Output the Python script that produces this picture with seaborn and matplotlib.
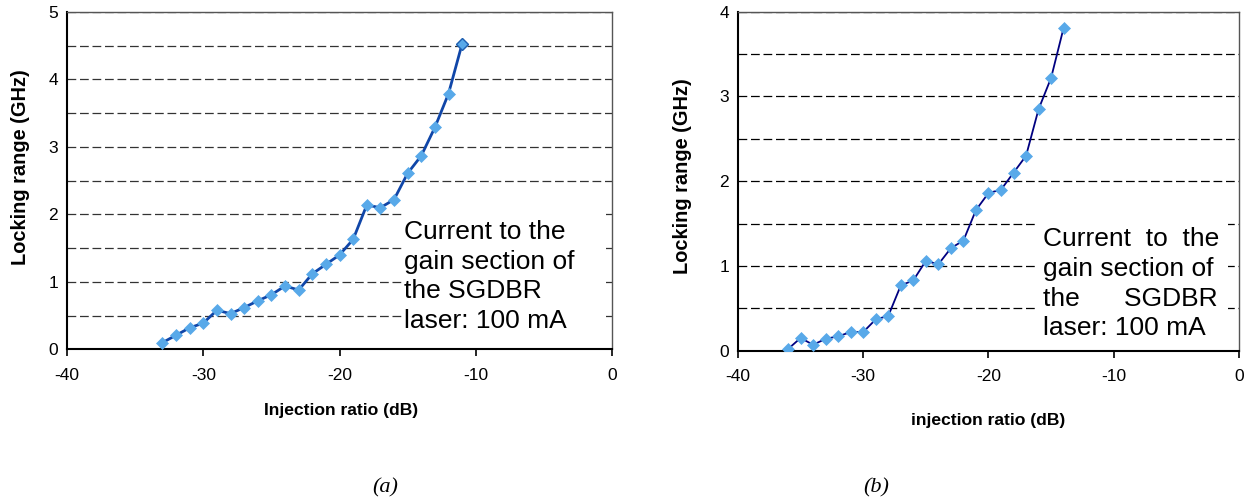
import numpy as np
import pandas as pd
import matplotlib
matplotlib.use("Agg")
import matplotlib.pyplot as plt
import seaborn as sns
from matplotlib.patches import Rectangle
from matplotlib.ticker import MultipleLocator

# ---- data -------------------------------------------------------------
inj_a = list(range(-33, -10))
lock_a = [0.10, 0.21, 0.32, 0.39, 0.58, 0.53, 0.62, 0.72, 0.81, 0.94, 0.88,
          1.12, 1.26, 1.40, 1.63, 2.14, 2.10, 2.22, 2.61, 2.87, 3.29, 3.79, 4.53]
inj_b = list(range(-36, -13))
lock_b = [0.02, 0.15, 0.07, 0.14, 0.17, 0.22, 0.22, 0.37, 0.41, 0.77, 0.83,
          1.06, 1.02, 1.21, 1.30, 1.66, 1.86, 1.90, 2.10, 2.30, 2.85, 3.22, 3.81]
x_ticks = [-40, -30, -20, -10, 0]
ylabel = "Locking range (GHz)"
xlabel_a = "Injection ratio (dB)"
xlabel_b = "injection ratio (dB)"
note_a = "Current to the\ngain section of\nthe SGDBR\nlaser: 100 mA"
note_b = "Current  to  the\ngain section of\nthe      SGDBR\nlaser: 100 mA"
captions = ["(a)", "(b)"]

sns.set_style("white")
plt.rcParams['font.family'] = ['Liberation Sans', 'DejaVu Sans']
plt.rcParams['axes.unicode_minus'] = False
plt.rcParams['text.color'] = 'black'
plt.rcParams['axes.labelcolor'] = 'black'
plt.rcParams['xtick.color'] = 'black'
plt.rcParams['ytick.color'] = 'black'

fig = plt.figure(figsize=(12.51, 5.01), dpi=100)
ax_a = fig.add_axes([0.0536, 0.3026, 0.4356, 0.6734])
ax_b = fig.add_axes([0.5899, 0.3000, 0.4005, 0.6766])

marker_fc = "#58A9E9"
cfg = [
    (ax_a, inj_a, lock_a, 5, "#1046A8", 2.0, "#333333", note_a, xlabel_a,
     (0.6165, 0.035, 0.372, 0.37), (0.619, 0.216),
     (0.503, -0.18), (-0.086, 0.54)),
    (ax_b, inj_b, lock_b, 4, "#000080", 1.3, "#000000", note_b, xlabel_b,
     (0.599, 0.035, 0.379, 0.41), (0.608, 0.198),
     (0.499, -0.207), (-0.11, 0.515)),
]

for (ax, xs, ys, ymax, lc, lw, gc, note, xl, box, tpos, xlc, ylc) in cfg:
    df = pd.DataFrame({"x": xs, "y": ys})
    sns.lineplot(data=df, x="x", y="y", ax=ax, color=lc, linewidth=lw,
                 marker="D", markersize=6.2, markerfacecolor=marker_fc,
                 markeredgecolor=marker_fc, markeredgewidth=0.5, zorder=5)
    ax.set_xlim(-40, 0)
    ax.set_ylim(0, ymax)
    ax.set_xticks(x_ticks)
    ax.yaxis.set_major_locator(MultipleLocator(1))
    ax.yaxis.set_minor_locator(MultipleLocator(0.5))
    ax.grid(True, which="both", axis="y", color=gc, linestyle=(0, (7, 3)),
            linewidth=0.9)
    ax.grid(False, axis="x")
    ax.set_axisbelow(True)
    for s in ["left", "bottom"]:
        ax.spines[s].set_color("black")
        ax.spines[s].set_linewidth(1.5)
    for s in ["top", "right"]:
        ax.spines[s].set_color("#555555")
        ax.spines[s].set_linewidth(1.0)
    ax.tick_params(axis="x", which="major", direction="out", length=5,
                   width=1.2, color="black", labelsize=12.5, pad=8.5,
                   bottom=True, labelcolor="black")
    ax.tick_params(axis="y", which="major", length=0, labelsize=12.5, pad=6.5,
                   labelcolor="black")
    ax.tick_params(axis="y", which="minor", length=0)
    ax.set_xlabel(xl, fontsize=12.6, fontweight="bold", color="black")
    ax.set_ylabel(ylabel, fontsize=14.4, fontweight="bold", color="black")
    ax.xaxis.set_label_coords(*xlc)
    ax.xaxis.label.set_va("center")
    ax.yaxis.set_label_coords(*ylc)
    ax.yaxis.label.set_va("center")
    ax.add_patch(Rectangle((box[0], box[1]), box[2], box[3],
                           transform=ax.transAxes, facecolor="white",
                           edgecolor="none", zorder=3))
    ax.text(tpos[0], tpos[1], note, transform=ax.transAxes, fontsize=19,
            ha="left", va="center", linespacing=1.31, zorder=4, color="black")

# last point of (a) drawn with a darker outline
ax_a.plot([inj_a[-1]], [lock_a[-1]], marker="D", markersize=6.2,
          markerfacecolor=marker_fc, markeredgecolor="#1F5FB0",
          markeredgewidth=1.0, zorder=6, linestyle="none")

fig.text(385 / 1251, 1 - 488 / 501, captions[0], fontsize=16, color="black",
         family=["Liberation Serif"], style="italic", ha="center", va="center")
fig.text(876 / 1251, 1 - 488 / 501, captions[1], fontsize=16, color="black",
         family=["Liberation Serif"], style="italic", ha="center", va="center")

fig.savefig("out.png", dpi=100)
